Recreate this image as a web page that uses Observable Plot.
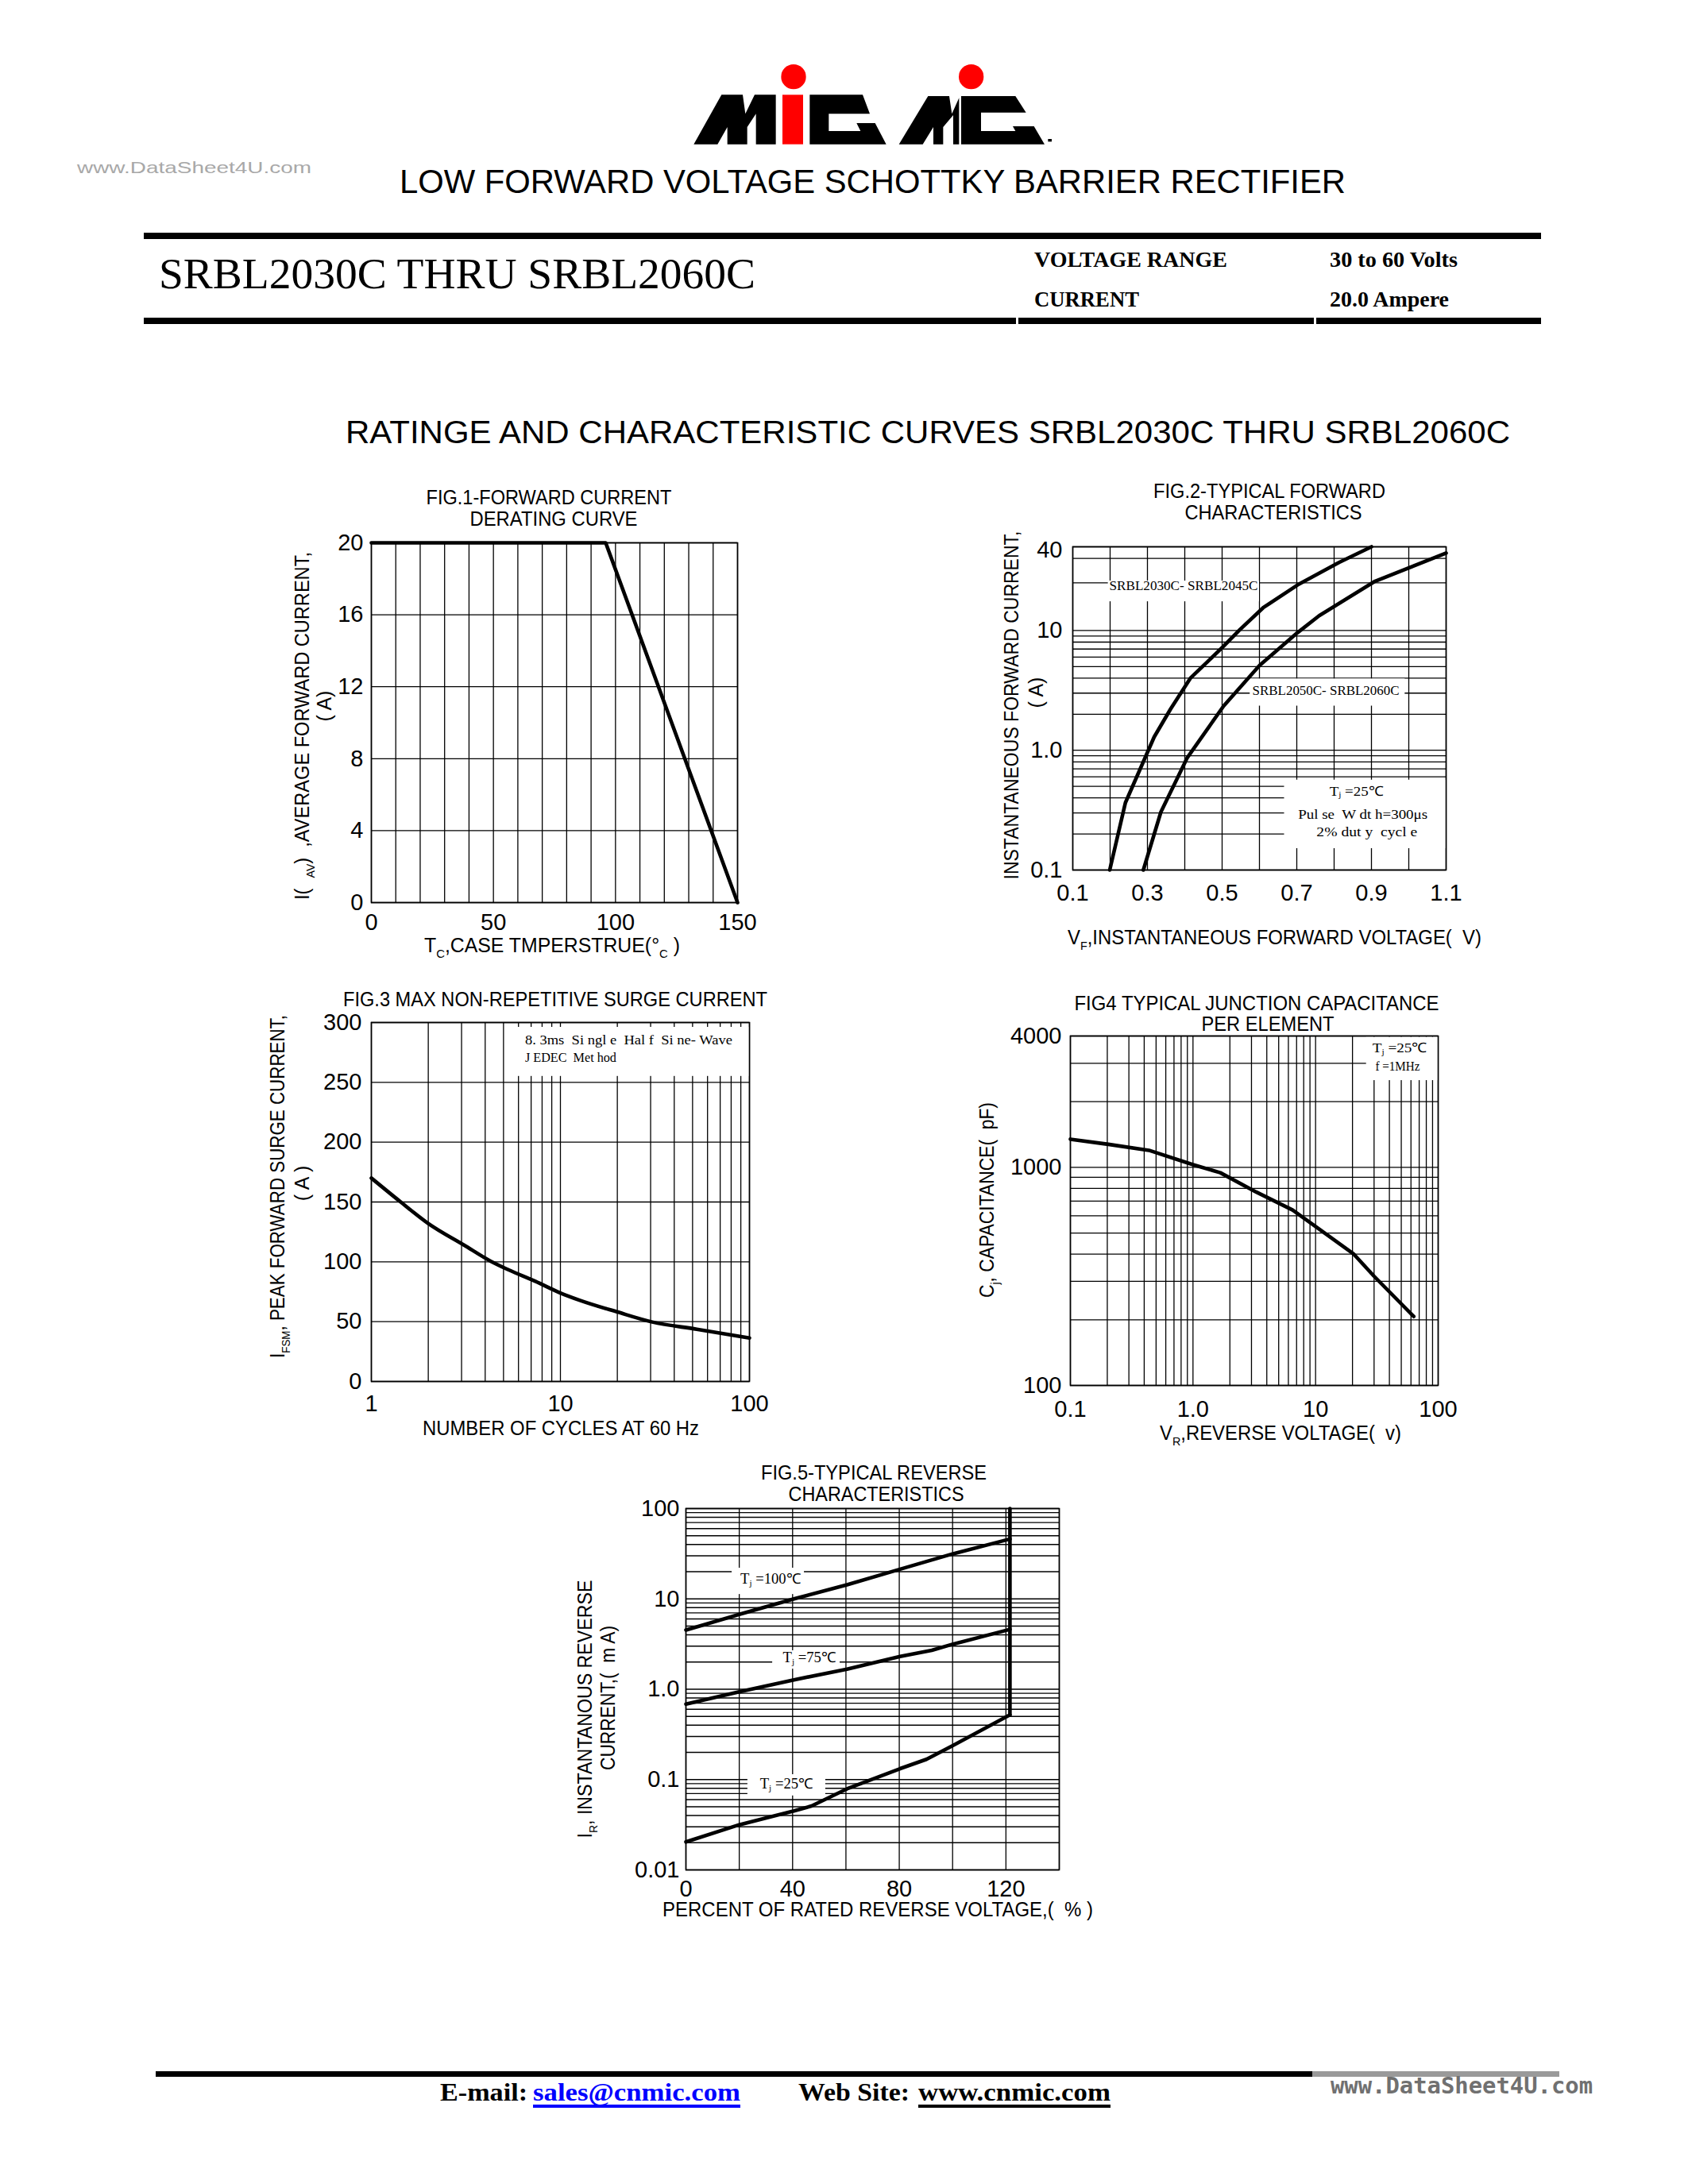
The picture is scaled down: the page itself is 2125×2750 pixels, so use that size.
<!DOCTYPE html>
<html><head><meta charset="utf-8">
<script src="https://cdn.jsdelivr.net/npm/d3@7"></script>
<script src="https://cdn.jsdelivr.net/npm/@observablehq/plot@0.6"></script>
<style>
html,body{margin:0;padding:0;background:#fff;}
#page{position:relative;width:2125px;height:2750px;background:#fff;overflow:hidden;}
#overlay{position:absolute;left:0;top:0;}
</style></head><body><div id="page"></div>
<script>
// ---------------- DATA ----------------
// Fig.1 forward current derating
const fig1Temp = [0, 96, 150];
const fig1Current = [20, 20, 0];
const fig1GridX = [0,10,20,30,40,50,60,70,80,90,100,110,120,130,140,150];
const fig1GridY = [0,4,8,12,16,20];
const fig1TicksX = [0,50,100,150];
const fig1TicksY = [0,4,8,12,16,20];

// Fig.2 typical forward characteristics
const fig2VoltageA = [0.199,0.241,0.318,0.362,0.415,0.46,0.504,0.548,0.61,0.702,0.813,0.90];
const fig2CurrentA = [0.1,0.365,1.29,2.21,4.0,5.45,7.4,10.2,15.5,24,37,50];
const fig2VoltageB = [0.289,0.336,0.407,0.504,0.60,0.702,0.76,0.91,1.1];
const fig2CurrentB = [0.1,0.305,0.87,2.34,5.1,9.6,13.3,25.8,44.3];
const fig2GridX = [0.1,0.2,0.3,0.4,0.5,0.6,0.7,0.8,0.9,1.0,1.1];
const fig2GridY = [0.1,0.2,0.3,0.4,0.5,0.6,0.7,0.8,0.9,1,2,3,4,5,6,7,8,9,10,25,40,50];
const fig2TicksX = [0.1,0.3,0.5,0.7,0.9,1.1];
const fig2LabelsX = ["0.1","0.3","0.5","0.7","0.9","1.1"];
const fig2TicksY = [0.1,1,10];
const fig2LabelsY = ["0.1","1.0","10"];
const fig2TopTick = [40];
const fig2TopLabel = ["40"];

// Fig.3 max non-repetitive surge current
const fig3Cycles = [1,1.43,2,3.09,4.27,5.3,7.37,10,12.6,19.9,30.6,52.6,100];
const fig3Surge = [170,150,132,114,100.6,93.4,83.7,74,68,58.2,49.7,43.7,36.4];
const fig3GridX = [1,2,3,4,5,6,7,8,9,10,20,30,40,50,60,70,80,90,100];
const fig3GridY = [0,50,100,150,200,250,300];
const fig3TicksX = [1,10,100];
const fig3TicksY = [0,50,100,150,200,250,300];

// Fig.4 typical junction capacitance
const fig4Voltage = [0.1,0.204,0.437,1.0,1.67,3.3,6.5,10,20.3,29.8,63.2];
const fig4Cap = [1346,1275,1197,1029,945,769,637,535,402,318,207];
const fig4GridX = [0.1,0.2,0.3,0.4,0.5,0.6,0.7,0.8,0.9,1,2,3,4,5,6,7,8,9,10,20,30,40,50,60,70,80,90,100];
const fig4GridY = [100,200,300,400,500,600,700,800,900,1000,2000,3000,4000];
const fig4TicksX = [0.1,1,10,100];
const fig4LabelsX = ["0.1","1.0","10","100"];
const fig4TicksY = [100,1000,4000];
const fig4LabelsY = ["100","1000","4000"];

// Fig.5 typical reverse characteristics
const fig5Pct100 = [0,20,40.5,60.4,80.3,100.2,121.5];
const fig5Tj100 = [4.52,6.73,10,14.3,21.3,31.6,46];
const fig5Pct75 = [0,20,40.5,60.4,80.3,92.2,100.2,121.5];
const fig5Tj75 = [0.683,0.938,1.27,1.67,2.3,2.7,3.16,4.6];
const fig5Pct25 = [0,20,40.5,47.1,60.4,80.3,90.2,100.2,121.5];
const fig5Tj25 = [0.0204,0.0316,0.045,0.051,0.0789,0.132,0.1675,0.239,0.52];
const fig5PctLimit = [121.5,121.5];
const fig5Limit = [0.52,100];
const fig5GridX = [0,20,40,60,80,100,120,140];
const fig5GridY = [0.01,0.02,0.03,0.04,0.05,0.06,0.07,0.08,0.09,0.1,0.2,0.3,0.4,0.5,0.6,0.7,0.8,0.9,1,2,3,4,5,6,7,8,9,10,20,30,40,50,60,70,80,90,100];
const fig5TicksX = [0,40,80,120];
const fig5TicksY = [0.01,0.1,1,10,100];
const fig5LabelsY = ["0.01","0.1","1.0","10","100"];

// annotation boxes / notes (data space)
const fig2Boxes = [{x1:0.195,x2:0.60,y1:17.4,y2:25.9},{x1:0.575,x2:0.99,y1:2.34,y2:3.94},{x1:0.667,x2:1.1,y1:0.151,y2:0.564}];
const fig2Notes = [
  {x:0.199,y:22.9,anchor:"start",len:187,parts:["SRBL2030C- SRBL2045C"]},
  {x:0.582,y:3.08,anchor:"start",len:185,parts:["SRBL2050C- SRBL2060C"]},
  {x:0.861,y:0.442,len:68,parts:["T",{t:"j",sub:1}," =25℃"]},
  {x:0.878,y:0.283,len:163,parts:["Pul se  W dt h=300μs"]},
  {x:0.889,y:0.202,len:127,parts:["2% dut y  cycl e"]}
];
const fig3Boxes = [{x1:5.33,x2:100,y1:255,y2:296}];
const fig3Notes = [
  {x:6.53,y:284,anchor:"start",len:261,parts:["8. 3ms  Si ngl e  Hal f  Si ne- Wave"]},
  {x:6.53,y:269.5,anchor:"start",len:115,parts:["J EDEC  Met hod"]}
];
const fig4Boxes = [{x1:26,x2:100,y1:2500,y2:3950}];
const fig4Notes = [
  {x:49,y:3467,len:69,parts:["T",{t:"j",sub:1}," =25℃"]},
  {x:47,y:2860,len:56,parts:["f =1MHz"]}
];
const fig5Boxes = [{x1:17.3,x2:44.4,y1:11.2,y2:21.9},{x1:32.5,x2:57.8,y1:1.67,y2:2.67},{x1:23.2,x2:52.4,y1:0.066,y2:0.1135}];
const fig5Notes = [
  {x:31.9,y:15.8,len:76,parts:["T",{t:"j",sub:1}," =100℃"]},
  {x:46.5,y:2.14,len:67,parts:["T",{t:"j",sub:1}," =75℃"]},
  {x:37.9,y:0.0863,len:67,parts:["T",{t:"j",sub:1}," =25℃"]}
];

// ---------------- RENDER ----------------
const SANS = "'Liberation Sans', Arial, Helvetica, sans-serif";
const SERIF = "'Liberation Serif', 'Times New Roman', Times, serif";
const page = document.getElementById("page");
const GRID = {stroke:"#000", strokeWidth:1.3};
const CURVE = {stroke:"#000", strokeWidth:4.6, strokeLinejoin:"round"};
const TICK = 29;

function lab(ticks, labels) {
  return d => { const i = ticks.findIndex(t => Math.abs(t - d) <= 1e-9 * Math.max(1, Math.abs(t))); return i >= 0 ? labels[i] : ""; };
}

function addText(sel, x, y, parts, o = {}) {
  const size = o.size || 24;
  const t = sel.append("text")
    .attr("x", x).attr("y", y)
    .attr("font-family", o.family || SANS)
    .attr("font-size", size)
    .attr("font-weight", o.weight || "normal")
    .attr("fill", o.fill || "#000")
    .attr("text-anchor", o.anchor || "start")
    .style("white-space", "pre");
  if (o.baseline) t.attr("dominant-baseline", o.baseline);
  if (o.rotate) t.attr("transform", `rotate(${o.rotate},${x},${y})`);
  if (o.len) t.attr("textLength", o.len).attr("lengthAdjust", "spacingAndGlyphs");
  let shifted = 0;
  for (const p of (typeof parts === "string" ? [parts] : parts)) {
    const q = typeof p === "string" ? {t: p} : p;
    const s = t.append("tspan").text(q.t);
    const want = q.sub ? size * 0.28 : 0;
    if (want !== shifted) { s.attr("dy", want - shifted); shifted = want; }
    if (q.sub) s.attr("font-size", size * 0.6);
  }
  return t;
}

function figure(f) {
  const mL = 110, mR = 45, mT = 30, mB = 70;
  const chart = Plot.plot({
    width: mL + f.w + mR, height: mT + f.h + mB,
    marginLeft: mL, marginRight: mR, marginTop: mT, marginBottom: mB,
    style: {fontFamily: SANS, fontSize: TICK + "px", color: "#000", background: "transparent", overflow: "visible"},
    x: f.x, y: f.y,
    marks: f.marks
  });
  chart.style.position = "absolute";
  chart.style.left = (f.left - mL) + "px";
  chart.style.top = (f.top - mT) + "px";
  page.appendChild(chart);
  if (f.notes) {
    const sx = chart.scale("x"), sy = chart.scale("y");
    const g = d3.select(chart).append("g");
    for (const n of f.notes) {
      addText(g, sx.apply(n.x), sy.apply(n.y), n.parts, {size: f.noteSize || 17, family: SERIF, anchor: n.anchor || "middle", baseline: "middle", len: n.len});
    }
  }
  return chart;
}

// Fig 1
figure({
  left: 467, top: 683, w: 461, h: 453,
  x: {domain: [0, 150]}, y: {domain: [0, 20]},
  marks: [
    Plot.ruleX(fig1GridX, GRID),
    Plot.ruleY(fig1GridY, GRID),
    Plot.frame({stroke: "#000", strokeWidth: 1.6}),
    Plot.line(fig1Temp, {x: fig1Temp, y: fig1Current, ...CURVE}),
    Plot.axisX(fig1TicksX, {tickSize: 0, tickPadding: 14, fontSize: TICK, label: null}),
    Plot.axisY(fig1TicksY, {tickSize: 0, tickPadding: 10, fontSize: TICK, label: null})
  ]
});

// Fig 2
figure({
  left: 1350, top: 688, w: 470, h: 407,
  x: {domain: [0.1, 1.1]}, y: {type: "log", domain: [0.1, 50]},
  noteSize: 17, notes: fig2Notes,
  marks: [
    Plot.ruleX(fig2GridX, GRID),
    Plot.ruleY(fig2GridY, GRID),
    Plot.rect(fig2Boxes, {x1: "x1", x2: "x2", y1: "y1", y2: "y2", fill: "#fff"}),
    Plot.frame({stroke: "#000", strokeWidth: 1.6}),
    Plot.line(fig2VoltageA, {x: fig2VoltageA, y: fig2CurrentA, ...CURVE}),
    Plot.line(fig2VoltageB, {x: fig2VoltageB, y: fig2CurrentB, ...CURVE}),
    Plot.axisX(fig2TicksX, {tickSize: 0, tickPadding: 18, fontSize: TICK, label: null, tickFormat: lab(fig2TicksX, fig2LabelsX)}),
    Plot.axisY(fig2TicksY, {tickSize: 0, tickPadding: 13, fontSize: TICK, label: null, tickFormat: lab(fig2TicksY, fig2LabelsY)}),
    Plot.axisY(fig2TopTick, {tickSize: 0, tickPadding: 13, fontSize: TICK, label: null, dy: -10, tickFormat: lab(fig2TopTick, fig2TopLabel)})
  ]
});

// Fig 3
figure({
  left: 467, top: 1287, w: 476, h: 452,
  x: {type: "log", domain: [1, 100]}, y: {domain: [0, 300]},
  noteSize: 16, notes: fig3Notes,
  marks: [
    Plot.ruleX(fig3GridX, GRID),
    Plot.ruleY(fig3GridY, GRID),
    Plot.rect(fig3Boxes, {x1: "x1", x2: "x2", y1: "y1", y2: "y2", fill: "#fff"}),
    Plot.frame({stroke: "#000", strokeWidth: 1.6}),
    Plot.line(fig3Cycles, {x: fig3Cycles, y: fig3Surge, ...CURVE, curve: "monotone-x"}),
    Plot.axisX(fig3TicksX, {tickSize: 0, tickPadding: 17, fontSize: TICK, label: null, tickFormat: d => String(d)}),
    Plot.axisY(fig3TicksY, {tickSize: 0, tickPadding: 12, fontSize: TICK, label: null})
  ]
});

// Fig 4
figure({
  left: 1347, top: 1304, w: 463, h: 440,
  x: {type: "log", domain: [0.1, 100]}, y: {type: "log", domain: [100, 4000]},
  noteSize: 17, notes: fig4Notes,
  marks: [
    Plot.ruleX(fig4GridX, GRID),
    Plot.ruleY(fig4GridY, GRID),
    Plot.rect(fig4Boxes, {x1: "x1", x2: "x2", y1: "y1", y2: "y2", fill: "#fff"}),
    Plot.frame({stroke: "#000", strokeWidth: 1.6}),
    Plot.line(fig4Voltage, {x: fig4Voltage, y: fig4Cap, ...CURVE}),
    Plot.axisX(fig4TicksX, {tickSize: 0, tickPadding: 19, fontSize: TICK, label: null, tickFormat: lab(fig4TicksX, fig4LabelsX)}),
    Plot.axisY(fig4TicksY, {tickSize: 0, tickPadding: 11, fontSize: TICK, label: null, tickFormat: lab(fig4TicksY, fig4LabelsY)})
  ]
});

// Fig 5
figure({
  left: 863, top: 1899, w: 470, h: 455,
  x: {domain: [0, 140]}, y: {type: "log", domain: [0.01, 100]},
  noteSize: 18, notes: fig5Notes,
  marks: [
    Plot.ruleX(fig5GridX, GRID),
    Plot.ruleY(fig5GridY, GRID),
    Plot.rect(fig5Boxes, {x1: "x1", x2: "x2", y1: "y1", y2: "y2", fill: "#fff"}),
    Plot.frame({stroke: "#000", strokeWidth: 1.6}),
    Plot.line(fig5Pct100, {x: fig5Pct100, y: fig5Tj100, ...CURVE}),
    Plot.line(fig5Pct75, {x: fig5Pct75, y: fig5Tj75, ...CURVE}),
    Plot.line(fig5Pct25, {x: fig5Pct25, y: fig5Tj25, ...CURVE}),
    Plot.line(fig5PctLimit, {x: fig5PctLimit, y: fig5Limit, ...CURVE}),
    Plot.axisX(fig5TicksX, {tickSize: 0, tickPadding: 13, fontSize: TICK, label: null}),
    Plot.axisY(fig5TicksY, {tickSize: 0, tickPadding: 8, fontSize: TICK, label: null, tickFormat: lab(fig5TicksY, fig5LabelsY)})
  ]
});

// ---------------- PAGE TEXT / DECORATION ----------------
const ov = d3.select(page).append("svg").attr("id", "overlay").attr("width", 2125).attr("height", 2750);

// logo
const logo = ov.append("g").attr("transform", "translate(850,60) scale(0.33333)");
logo.append("polygon").attr("fill", "#000").attr("points", "70,365 175,178 255,178 265,250 300,178 380,178 380,365 305,365 305,250 272,300 272,365 197,365 197,300 160,365");
logo.append("rect").attr("fill", "#ff0000").attr("x", 405).attr("y", 178).attr("width", 78).attr("height", 187);
logo.append("circle").attr("fill", "#ff0000").attr("cx", 447).attr("cy", 110).attr("r", 47);
logo.append("polygon").attr("fill", "#000").attr("points", "508,178 708,178 735,250 580,250 580,315 700,315 685,285 755,285 797,365 508,365");
logo.append("polygon").attr("fill", "#000").attr("points", "845,365 955,183 1035,183 1045,250 1072,190 1072,365 1050,365 1050,255 1012,300 1012,365 975,365 975,300 935,365");
logo.append("polygon").attr("fill", "#000").attr("points", "1080,183 1285,183 1325,245 1155,245 1155,315 1285,315 1275,297 1355,297 1395,365 1080,365");
logo.append("circle").attr("fill", "#ff0000").attr("cx", 1118).attr("cy", 110).attr("r", 47);
logo.append("rect").attr("fill", "#000").attr("x", 1408).attr("y", 345).attr("width", 14).attr("height", 10);

// header
addText(ov, 97, 218, "www.DataSheet4U.com", {size: 21, fill: "#a8a8a8", len: 295});
addText(ov, 503, 243, "LOW FORWARD VOLTAGE SCHOTTKY BARRIER RECTIFIER", {size: 42, len: 1191});
ov.append("rect").attr("x", 181).attr("y", 293).attr("width", 1759).attr("height", 8).attr("fill", "#000");
addText(ov, 200, 363, "SRBL2030C THRU SRBL2060C", {size: 55, family: SERIF, len: 751});
addText(ov, 1302, 336, "VOLTAGE RANGE", {size: 28, family: SERIF, weight: "bold", len: 243});
addText(ov, 1674, 336, "30 to 60 Volts", {size: 28, family: SERIF, weight: "bold", len: 161});
addText(ov, 1302, 386, "CURRENT", {size: 28, family: SERIF, weight: "bold", len: 132});
addText(ov, 1674, 386, "20.0 Ampere", {size: 28, family: SERIF, weight: "bold", len: 150});
ov.append("rect").attr("x", 181).attr("y", 400).attr("width", 1098).attr("height", 8).attr("fill", "#000");
ov.append("rect").attr("x", 1282).attr("y", 400).attr("width", 372).attr("height", 8).attr("fill", "#000");
ov.append("rect").attr("x", 1657).attr("y", 400).attr("width", 283).attr("height", 8).attr("fill", "#000");
addText(ov, 435, 558, "RATINGE AND CHARACTERISTIC CURVES SRBL2030C THRU SRBL2060C", {size: 40, len: 1466});

// figure titles
const TT = 25;
addText(ov, 691, 635, "FIG.1-FORWARD CURRENT", {size: TT, anchor: "middle", len: 309});
addText(ov, 697, 662, "DERATING CURVE", {size: TT, anchor: "middle", len: 211});
addText(ov, 1598, 627, "FIG.2-TYPICAL FORWARD", {size: TT, anchor: "middle", len: 292});
addText(ov, 1603, 654, "CHARACTERISTICS", {size: TT, anchor: "middle", len: 223});
addText(ov, 699, 1267, "FIG.3 MAX NON-REPETITIVE SURGE CURRENT", {size: TT, anchor: "middle", len: 534});
addText(ov, 1582, 1272, "FIG4 TYPICAL JUNCTION CAPACITANCE", {size: TT, anchor: "middle", len: 459});
addText(ov, 1596, 1298, "PER ELEMENT", {size: TT, anchor: "middle", len: 167});
addText(ov, 1100, 1863, "FIG.5-TYPICAL REVERSE", {size: TT, anchor: "middle", len: 284});
addText(ov, 1103, 1890, "CHARACTERISTICS", {size: TT, anchor: "middle", len: 221});

// x axis titles
const AT = 25;
addText(ov, 695, 1199, ["T", {t: "C", sub: 1}, ",CASE TMPERSTRUE(", "°", {t: "C", sub: 1}, " )"], {size: AT, anchor: "middle", len: 322});
addText(ov, 1344, 1189, ["V", {t: "F", sub: 1}, ",INSTANTANEOUS FORWARD VOLTAGE(  V)"], {size: AT, anchor: "middle", anchor: "start", len: 521});
addText(ov, 706, 1807, "NUMBER OF CYCLES AT 60 Hz", {size: AT, anchor: "middle", len: 348});
addText(ov, 1612, 1813, ["V", {t: "R", sub: 1}, ",REVERSE VOLTAGE(  v)"], {size: AT, anchor: "middle", len: 304});
addText(ov, 1105, 2413, "PERCENT OF RATED REVERSE VOLTAGE,(  % )", {size: AT, anchor: "middle", len: 542});

// y axis titles (rotated)
addText(ov, 389, 914, ["I(  ", {t: "AV", sub: 1}, ")  ,AVERAGE FORWARD CURRENT,"], {size: AT, anchor: "middle", rotate: -90, len: 438});
addText(ov, 417, 889, "( A)", {size: AT, anchor: "middle", rotate: -90});
addText(ov, 1282, 888, "INSTANTANEOUS FORWARD CURRENT,", {size: AT, anchor: "middle", rotate: -90, len: 439});
addText(ov, 1313, 872, "( A)", {size: AT, anchor: "middle", rotate: -90});
addText(ov, 358, 1494, ["I", {t: "FSM", sub: 1}, ", PEAK FORWARD SURGE CURRENT,"], {size: AT, anchor: "middle", rotate: -90, len: 432});
addText(ov, 389, 1490, "( A )", {size: AT, anchor: "middle", rotate: -90});
addText(ov, 1251, 1511, ["C", {t: "j", sub: 1}, ", CAPACITANCE(  pF)"], {size: AT, anchor: "middle", rotate: -90, len: 246});
addText(ov, 745, 2152, ["I", {t: "R", sub: 1}, ", INSTANTANOUS REVERSE"], {size: AT, anchor: "middle", rotate: -90, len: 325});
addText(ov, 774, 2138, "CURRENT,(  m A)", {size: AT, anchor: "middle", rotate: -90, len: 182});

// footer
ov.append("rect").attr("x", 196).attr("y", 2608).attr("width", 1456).attr("height", 7).attr("fill", "#000");
ov.append("rect").attr("x", 1652).attr("y", 2608).attr("width", 311).attr("height", 7).attr("fill", "#9a9a9a");
addText(ov, 554, 2645, "E-mail:", {size: 32, family: SERIF, weight: "bold", len: 110});
addText(ov, 671, 2645, "sales@cnmic.com", {size: 32, family: SERIF, weight: "bold", fill: "#0000ff", len: 261});
ov.append("rect").attr("x", 671).attr("y", 2650).attr("width", 261).attr("height", 4).attr("fill", "#0000ff");
addText(ov, 1005, 2645, "Web Site:", {size: 32, family: SERIF, weight: "bold", len: 140});
addText(ov, 1156, 2645, "www.cnmic.com", {size: 32, family: SERIF, weight: "bold", len: 242});
ov.append("rect").attr("x", 1156).attr("y", 2650).attr("width", 242).attr("height", 4).attr("fill", "#000");
addText(ov, 1675, 2636, "www.DataSheet4U.com", {size: 29, family: "'DejaVu Sans Mono', monospace", weight: "bold", fill: "#707070", len: 330});
</script></body></html>
